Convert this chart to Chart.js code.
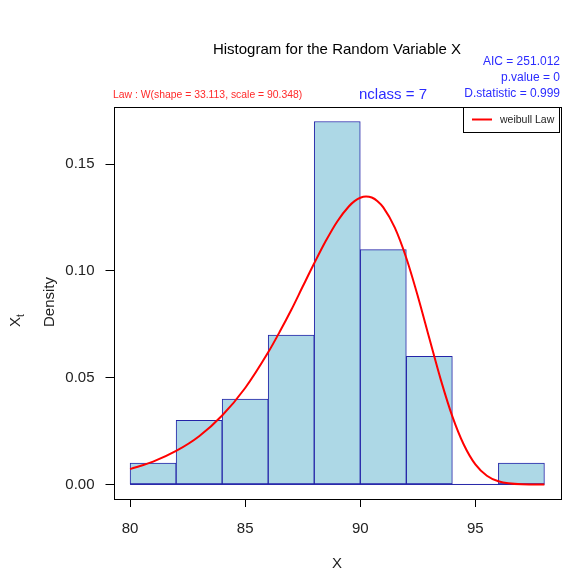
<!DOCTYPE html>
<html>
<head>
<meta charset="utf-8">
<script src="https://cdn.jsdelivr.net/npm/chart.js@4/dist/chart.umd.min.js"></script>
<style>
  html, body { margin: 0; padding: 0; background: #fff; }
  #wrap { width: 562px; height: 576px; }
</style>
</head>
<body>
<div id="wrap"><canvas id="c" width="562" height="576"></canvas></div>
<script>
// ---- data ----
const binCenters = [81, 83, 85, 87, 89, 91, 93, 95, 97];
const binDensity = [0.01, 0.03, 0.04, 0.07, 0.17, 0.11, 0.06, 0.00, 0.01];
const curveX = [80, 81, 82, 83, 84, 85, 86, 86.5, 87, 87.5, 88, 88.5, 89, 89.5, 89.75, 90, 90.25, 90.5, 90.75, 91, 91.5, 92, 92.5, 93, 93.5, 94, 94.5, 95, 95.5, 96, 97, 98];
const curveY = [0.0072, 0.0107, 0.0157, 0.0226, 0.0323, 0.0452, 0.0619, 0.0715, 0.0817, 0.0927, 0.1036, 0.1140, 0.1232, 0.1302, 0.1327, 0.1343, 0.1349, 0.1344, 0.1327, 0.1298, 0.1203, 0.1061, 0.0882, 0.0685, 0.0490, 0.0319, 0.0186, 0.0094, 0.0041, 0.0015, 0.0001, 0.0000];
const xTicks = [80, 85, 90, 95];
const yTicks = [0.00, 0.05, 0.10, 0.15];
const baseX = [80, 98];
const baseY = [0, 0];

const FONT = "'Liberation Sans', Arial, Helvetica, sans-serif";
Chart.defaults.font.family = FONT;

const textPlugin = {
  id: 'rtext',
  afterDraw(chart) {
    const ctx = chart.ctx;
    const a = chart.chartArea;
    ctx.save();
    // plot frame
    ctx.strokeStyle = '#000';
    ctx.lineWidth = 1;
    ctx.strokeRect(Math.round(a.left) + 0.5, Math.round(a.top) + 0.5,
                   Math.round(a.right - a.left) - 1, Math.round(a.bottom - a.top));
    // title
    ctx.fillStyle = '#000';
    ctx.textBaseline = 'middle';
    ctx.textAlign = 'center';
    ctx.font = '15px ' + FONT;
    ctx.fillText('Histogram for the Random Variable X', 337, 50);
    // stats (blue, right aligned)
    ctx.fillStyle = '#2b2bff';
    ctx.textAlign = 'right';
    ctx.font = '12px ' + FONT;
    ctx.fillText('AIC = 251.012', 560, 62);
    ctx.fillText('p.value = 0', 560, 78);
    ctx.fillText('D.statistic = 0.999', 560, 94);
    // nclass
    ctx.textAlign = 'center';
    ctx.font = '15px ' + FONT;
    ctx.fillText('nclass = 7', 393, 95);
    // law
    ctx.fillStyle = '#ff2a2a';
    ctx.textAlign = 'left';
    ctx.font = '10.4px ' + FONT;
    ctx.fillText('Law : W(shape = 33.113, scale = 90.348)', 113, 95);
    // legend
    ctx.fillStyle = '#fff';
    ctx.fillRect(463, 107, 96, 25);
    ctx.strokeStyle = '#000';
    ctx.lineWidth = 1;
    ctx.strokeRect(463.5, 107.5, 96, 25);
    ctx.strokeStyle = 'red';
    ctx.lineWidth = 2;
    ctx.beginPath();
    ctx.moveTo(472, 119.5);
    ctx.lineTo(492, 119.5);
    ctx.stroke();
    ctx.fillStyle = '#222';
    ctx.font = '10.5px ' + FONT;
    ctx.textAlign = 'left';
    ctx.fillText('weibull Law', 500, 120);
    // axis titles
    ctx.fillStyle = '#222';
    ctx.font = '15px ' + FONT;
    ctx.textAlign = 'center';
    ctx.fillText('X', 337, 564);
    ctx.save();
    ctx.translate(50, 302);
    ctx.rotate(-Math.PI / 2);
    ctx.fillText('Density', 0, 0);
    ctx.restore();
    ctx.save();
    ctx.translate(16, 321);
    ctx.rotate(-Math.PI / 2);
    ctx.textAlign = 'left';
    ctx.font = '15px ' + FONT;
    ctx.fillText('X', -6, 0);
    ctx.font = '10px ' + FONT;
    ctx.fillText('t', 4, 5);
    ctx.restore();
    ctx.restore();
  }
};

new Chart(document.getElementById('c'), {
  type: 'bar',
  data: {
    datasets: [
      {
        type: 'line',
        label: 'weibull Law',
        data: curveX.map((x, i) => ({ x: x, y: curveY[i] })),
        borderColor: 'red',
        borderWidth: 2,
        pointRadius: 0,
        fill: false,
        cubicInterpolationMode: 'monotone',
        order: 0
      },
      {
        type: 'line',
        label: 'base',
        data: baseX.map((x, i) => ({ x: x, y: baseY[i] })),
        borderColor: '#2424a8',
        borderWidth: 1,
        pointRadius: 0,
        fill: false,
        order: 1
      },
      {
        type: 'bar',
        label: 'hist',
        data: binCenters.map((x, i) => ({ x: x, y: binDensity[i] })),
        backgroundColor: '#ADD8E6',
        borderColor: '#2424a8',
        borderWidth: 1,
        borderSkipped: false,
        barPercentage: 1.0,
        categoryPercentage: 1.0,
        grouped: false,
        order: 2
      }
    ]
  },
  options: {
    responsive: false,
    animation: false,
    layout: { padding: { top: 107, right: 1, left: 0, bottom: 0 } },
    plugins: {
      legend: { display: false },
      title: { display: false },
      tooltip: { enabled: false }
    },
    scales: {
      x: {
        type: 'linear',
        min: 79.28,
        max: 98.72,
        offset: false,
        afterFit(s) { s.height = 77; },
        afterBuildTicks(s) { s.ticks = xTicks.map(v => ({ value: v })); },
        grid: { offset: false, drawOnChartArea: false, drawTicks: true, tickLength: 8, color: '#000' },
        border: { display: false },
        ticks: { color: '#222', font: { size: 15 }, padding: 13, maxRotation: 0, autoSkip: false,
                 callback: v => String(v) }
      },
      y: {
        type: 'linear',
        min: -0.0068,
        max: 0.1768,
        afterFit(s) { s.width = 113.5; },
        afterBuildTicks(s) { s.ticks = yTicks.map(v => ({ value: v })); },
        grid: { offset: false, drawOnChartArea: false, drawTicks: true, tickLength: 8, color: '#000' },
        border: { display: false },
        ticks: { color: '#222', font: { size: 15 }, padding: 11, autoSkip: false,
                 callback: v => Number(v).toFixed(2) }
      }
    }
  },
  plugins: [textPlugin]
});
</script>
</body>
</html>
